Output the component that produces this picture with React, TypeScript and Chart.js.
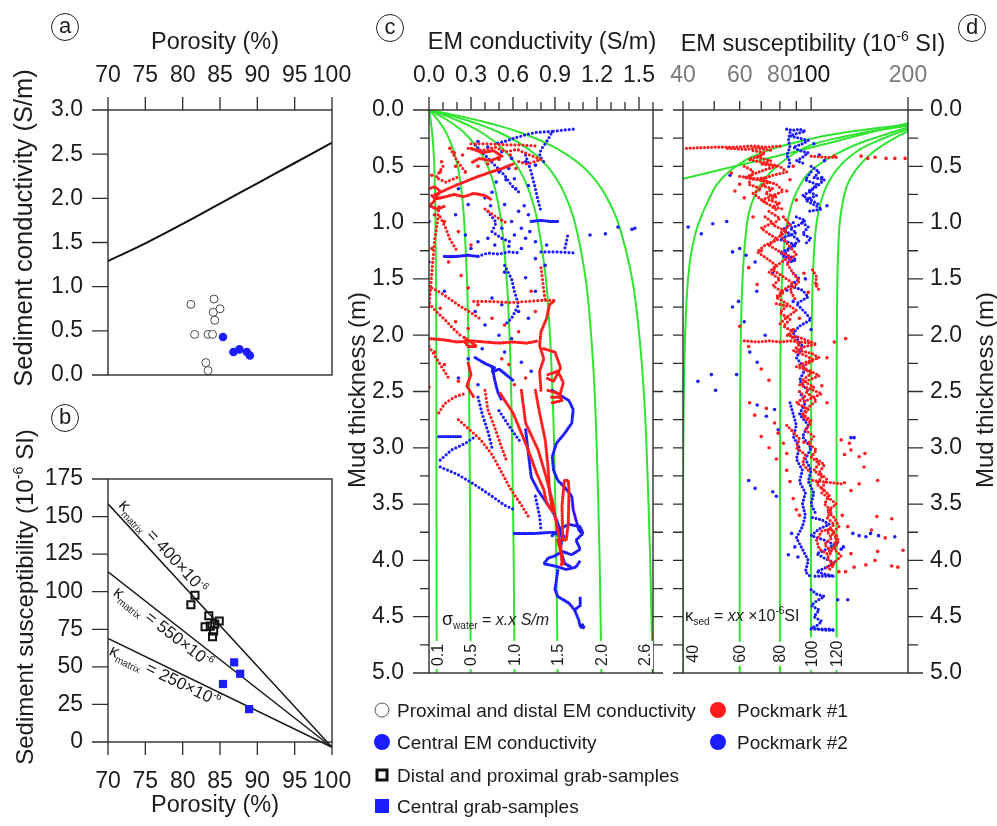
import React, { useEffect, useRef } from "react";
import { Chart, registerables } from "chart.js";

Chart.register(...registerables);

const FONT = "'Liberation Sans', Arial, Helvetica, sans-serif";
const INK = "#1c1c1c";
const AXIS = "#2e2e2e";
const RED = "#ff1c1c";
const BLUE = "#1c1cff";
const GREEN = "#30e430";
const GRAY_TICK = "#7a7a7a";
const TICK_FONT = 23;

// ---------------- (a) porosity vs sediment conductivity ----------------
const porosityTicks = [70, 75, 80, 85, 90, 95, 100];
const conductivityTicksA = [0, 0.5, 1, 1.5, 2, 2.5, 3];
const archiePorosity = [70, 75, 80, 85, 90, 95, 100];
const archieConductivity = [1.29, 1.49, 1.71, 1.94, 2.17, 2.4, 2.63];
const proxDistPorosity = [81.1, 84.2, 84.1, 85.0, 84.3, 81.6, 83.4, 84.0, 83.1, 83.4];
const proxDistConductivity = [0.8, 0.86, 0.71, 0.75, 0.62, 0.46, 0.46, 0.46, 0.14, 0.05];
const centralPorosity = [85.4, 86.8, 87.6, 88.6, 89.0];
const centralConductivity = [0.43, 0.26, 0.29, 0.26, 0.22];

// ---------------- (b) porosity vs sediment susceptibility ----------------
const susceptibilityTicksB = [0, 25, 50, 75, 100, 125, 150, 175];
const grabProxPorosity = [81.65, 81.1, 83.5, 83.0, 83.7, 84.3, 84.9, 84.15, 84.0];
const grabProxSusceptibility = [97.7, 91.3, 84.0, 76.7, 77.1, 78.5, 80.5, 73.8, 70.0];
const grabCentralPorosity = [86.9, 87.7, 85.4, 88.9];
const grabCentralSusceptibility = [53.0, 45.4, 38.6, 21.9];
const matrixValues = ["400", "550", "250"];
const matrixLinePorosity = [70, 100];
const matrixLineSusceptibility = [
  [158.5, -3.5],
  [113.2, -3.5],
  [68.9, -3.5],
];

// ---------------- (c) EM conductivity vs mud thickness ----------------
const condTicks = [0, 0.3, 0.6, 0.9, 1.2, 1.5];
const condMinorTicks = [0.1, 0.2, 0.4, 0.5, 0.7, 0.8, 1.0, 1.1, 1.3, 1.4, 1.6];
const depthTicks = [0, 0.5, 1, 1.5, 2, 2.5, 3, 3.5, 4, 4.5, 5];
const depthMinorTicks = [0.25, 0.75, 1.25, 1.75, 2.25, 2.75, 3.25, 3.75, 4.25, 4.75];
const sigmaWaterLabels = ["0.1", "0.5", "1.0", "1.5", "2.0", "2.6"];
const curveDepths = [0, 0.05, 0.1, 0.15, 0.2, 0.3, 0.4, 0.5, 0.6, 0.75, 1, 1.5, 2, 2.5, 3, 4, 5];
const sigmaCurveCond = [
  [0, 0.007, 0.013, 0.018, 0.022, 0.029, 0.034, 0.038, 0.04, 0.043, 0.046, 0.05, 0.052, 0.053, 0.053, 0.054, 0.055],
  [0, 0.038, 0.07, 0.098, 0.122, 0.158, 0.185, 0.205, 0.219, 0.235, 0.252, 0.271, 0.281, 0.286, 0.29, 0.295, 0.298],
  [0, 0.077, 0.144, 0.201, 0.25, 0.324, 0.379, 0.419, 0.449, 0.481, 0.517, 0.555, 0.575, 0.587, 0.594, 0.605, 0.611],
  [0, 0.117, 0.217, 0.303, 0.375, 0.488, 0.57, 0.63, 0.675, 0.724, 0.777, 0.835, 0.864, 0.882, 0.894, 0.909, 0.919],
  [0, 0.156, 0.291, 0.406, 0.503, 0.654, 0.764, 0.845, 0.905, 0.97, 1.042, 1.119, 1.158, 1.183, 1.198, 1.219, 1.231],
  [0, 0.203, 0.377, 0.526, 0.652, 0.848, 0.991, 1.096, 1.174, 1.258, 1.351, 1.451, 1.502, 1.534, 1.554, 1.58, 1.597],
];

const pm1CondLines = [
  [[0.6, 0.48], [0.52, 0.52], [0.42, 0.56], [0.33, 0.6], [0.25, 0.64], [0.17, 0.68], [0.1, 0.72], [0.03, 0.76]],
  [[0.02, 0.76], [0.05, 0.79], [0.12, 0.77], [0.18, 0.75], [0.25, 0.77], [0.32, 0.74], [0.4, 0.76], [0.45, 0.8]],
  [[0.0, 0.7], [0.04, 0.68], [0.08, 0.72], [0.03, 0.82], [0.0, 0.85], [0.06, 0.88], [0.12, 0.85]],
  [[0.3, 0.34], [0.38, 0.38], [0.46, 0.36], [0.52, 0.41], [0.44, 0.45], [0.36, 0.43], [0.3, 0.47]],
  [[0.0, 2.03], [0.1, 2.04], [0.2, 2.06], [0.3, 2.05], [0.4, 2.06], [0.5, 2.07], [0.6, 2.06], [0.7, 2.07], [0.78, 2.05]],
  [[0.25, 2.02], [0.3, 2.06], [0.34, 2.1], [0.28, 2.1], [0.25, 2.05]],
  [[0.89, 1.7], [0.86, 1.73], [0.84, 1.85], [0.8, 1.97], [0.79, 2.09], [0.82, 2.21], [0.79, 2.32], [0.8, 2.5]],
  [[0.82, 2.12], [0.9, 2.15], [0.94, 2.29], [0.89, 2.41], [0.84, 2.38]],
  [[0.85, 2.35], [0.92, 2.32], [0.96, 2.42], [0.93, 2.55], [0.86, 2.55]],
  [[0.66, 2.49], [0.69, 2.78], [0.78, 3.02], [0.83, 3.23], [0.88, 3.46], [0.91, 3.67], [0.94, 3.88], [0.95, 4.03]],
  [[0.76, 2.49], [0.79, 2.69], [0.83, 2.93], [0.85, 3.17], [0.86, 3.38], [0.88, 3.55]],
  [[0.51, 2.52], [0.6, 2.69], [0.7, 2.99], [0.77, 3.23], [0.82, 3.37], [0.84, 3.49], [0.89, 3.58]],
  [[0.85, 2.49], [0.93, 2.52], [0.95, 2.58], [0.88, 2.6]],
  [[0.97, 3.29], [0.995, 3.29], [1.0, 3.38], [0.995, 3.67], [0.98, 3.82], [0.955, 3.82], [0.95, 3.52], [0.966, 3.3]],
  [[0.92, 3.82], [0.95, 3.97], [0.96, 4.03], [0.94, 4.04]],
  [[0.28, 2.25], [0.3, 2.35], [0.27, 2.45], [0.32, 2.55]],
];
const pm1CondDots = [
  [[0.3, 0.3], [0.42, 0.3], [0.55, 0.31], [0.66, 0.31], [0.77, 0.32]],
  [[0.28, 0.34], [0.38, 0.36], [0.47, 0.33], [0.55, 0.37], [0.63, 0.35], [0.72, 0.4], [0.8, 0.44], [0.7, 0.48], [0.62, 0.45]],
  [[0.07, 0.86], [0.06, 1.0], [0.04, 1.15], [0.03, 1.3], [0.02, 1.45], [0.01, 1.6], [0.0, 1.75]],
  [[0.08, 0.95], [0.12, 1.05], [0.15, 1.15], [0.2, 1.25]],
  [[0.02, 1.58], [0.08, 1.62], [0.15, 1.68], [0.22, 1.74], [0.3, 1.8], [0.36, 1.85]],
  [[0.0, 1.72], [0.06, 1.8], [0.12, 1.87], [0.18, 1.95], [0.24, 2.02]],
  [[0.32, 1.7], [0.45, 1.7], [0.58, 1.71], [0.7, 1.7], [0.82, 1.69], [0.9, 1.69]],
  [[0.8, 1.4], [0.81, 1.5], [0.82, 1.6], [0.83, 1.7]],
  [[0.0, 2.1], [0.05, 2.2], [0.1, 2.3], [0.15, 2.4]],
  [[0.07, 2.69], [0.11, 2.61], [0.18, 2.55], [0.25, 2.52]],
  [[0.21, 2.75], [0.3, 2.85], [0.37, 2.93], [0.45, 3.06], [0.52, 3.22], [0.58, 3.36], [0.65, 3.49], [0.71, 3.61]],
  [[0.4, 2.49], [0.42, 2.66], [0.47, 2.82], [0.52, 3.0], [0.55, 3.1]],
  [[0.15, 0.34], [0.2, 0.45], [0.26, 0.55]],
  [[0.4, 0.88], [0.48, 0.95], [0.55, 1.0]],
  [[0.1, 0.5], [0.05, 0.6], [0.12, 0.64], [0.2, 0.6]],
];
const pm1CondPoints = [
  [0.15, 0.34], [0.09, 0.46], [0.19, 0.5], [0.26, 0.55], [0.04, 0.93], [0.11, 0.99], [0.21, 1.08], [0.3, 1.2],
  [0.02, 1.23], [0.14, 1.35], [0.23, 1.47], [0.28, 1.58], [0.35, 1.73], [0.45, 1.85], [0.54, 1.91], [0.64, 1.97],
  [0.08, 1.76], [0.19, 1.88], [0.28, 1.94], [0.04, 2.15], [0.11, 2.26], [0.21, 2.41], [0.57, 2.26], [0.69, 2.38],
  [0.61, 2.44], [0.52, 2.21], [0.73, 1.61], [0.76, 1.79], [0.02, 0.58], [0.08, 0.55], [0.0, 2.46],
  [0.35, 0.5], [0.42, 0.48], [0.5, 0.44], [0.58, 0.4], [0.24, 0.4], [0.18, 0.38], [0.62, 0.52],
];

const pm2CondLines = [
  [[0.73, 0.99], [0.8, 0.98], [0.87, 0.99], [0.93, 0.99]],
  [[0.11, 1.3], [0.2, 1.3], [0.28, 1.29], [0.35, 1.3]],
  [[0.33, 2.2], [0.4, 2.25], [0.47, 2.29], [0.45, 2.33], [0.5, 2.3], [0.55, 2.35], [0.6, 2.4]],
  [[0.45, 2.28], [0.47, 2.4], [0.49, 2.5], [0.52, 2.58]],
  [[0.07, 2.9], [0.14, 2.9], [0.23, 2.9]],
  [[0.88, 2.49], [1.0, 2.58], [1.03, 2.66], [1.02, 2.78], [0.97, 2.87], [0.91, 2.96], [0.88, 3.08], [0.89, 3.2], [0.92, 3.29], [0.97, 3.35], [1.02, 3.43], [1.03, 3.55], [1.05, 3.64], [1.07, 3.73], [1.09, 3.76]],
  [[0.69, 2.84], [0.71, 3.05], [0.73, 3.26], [0.78, 3.38], [0.83, 3.47], [0.89, 3.58], [0.92, 3.67], [0.95, 3.79], [0.94, 3.91], [0.97, 4.03], [1.02, 4.06]],
  [[0.61, 3.76], [0.76, 3.76], [0.88, 3.75], [0.97, 3.79]],
  [[0.88, 3.78], [0.93, 3.72], [1.0, 3.68], [1.08, 3.7], [1.1, 3.76], [1.05, 3.82], [1.08, 3.9], [1.02, 3.95], [0.95, 3.92], [0.9, 3.96], [0.85, 3.98], [0.82, 4.03], [0.9, 4.05], [0.98, 4.08], [1.05, 4.06], [1.08, 4.0]],
  [[0.92, 4.09], [0.9, 4.26], [0.92, 4.32], [1.0, 4.38], [1.04, 4.44], [1.07, 4.53], [1.08, 4.59], [1.11, 4.6], [1.09, 4.56]],
  [[1.04, 4.44], [1.08, 4.4], [1.08, 4.32]],
];
const pm2CondDots = [
  [[1.03, 0.17], [0.95, 0.18], [0.88, 0.19], [0.86, 0.24], [0.83, 0.3], [0.8, 0.35], [0.79, 0.41], [0.82, 0.46]],
  [[0.88, 0.19], [0.76, 0.2], [0.69, 0.22], [0.61, 0.25], [0.54, 0.28], [0.47, 0.3]],
  [[0.33, 0.31], [0.4, 0.4], [0.47, 0.49], [0.54, 0.58], [0.59, 0.67], [0.66, 0.75]],
  [[0.69, 0.4], [0.73, 0.55], [0.76, 0.7], [0.78, 0.81], [0.8, 0.9]],
  [[0.99, 1.12], [0.98, 1.18], [0.97, 1.23]],
  [[0.8, 1.26], [0.92, 1.26], [1.05, 1.27]],
  [[0.35, 1.3], [0.42, 1.27], [0.5, 1.28], [0.57, 1.26], [0.65, 1.27]],
  [[0.54, 1.38], [0.59, 1.5], [0.61, 1.61], [0.64, 1.73], [0.59, 1.85], [0.54, 1.91]],
  [[0.08, 3.17], [0.21, 3.24], [0.33, 3.33], [0.45, 3.43], [0.54, 3.51], [0.61, 3.55]],
  [[0.08, 3.11], [0.16, 3.02], [0.26, 2.96], [0.33, 2.9]],
  [[0.5, 2.67], [0.59, 2.84], [0.66, 2.96]],
  [[0.76, 3.43], [0.79, 3.61], [0.8, 3.73]],
  [[0.35, 2.55], [0.38, 2.7], [0.42, 2.85], [0.45, 3.0]],
  [[0.42, 0.9], [0.48, 1.0], [0.45, 1.08], [0.52, 1.14], [0.6, 1.18]],
];
const pm2CondPoints = [
  [0.35, 0.28], [0.42, 0.33], [0.52, 0.37], [0.59, 0.43], [0.69, 0.46], [0.76, 0.49], [0.5, 0.55], [0.57, 0.52],
  [0.61, 0.61], [0.71, 0.67], [0.45, 0.73], [0.4, 0.78], [0.54, 0.84], [0.64, 0.9], [0.71, 0.93], [0.59, 0.99],
  [0.52, 1.05], [0.61, 1.11], [0.69, 1.14], [0.76, 1.17], [0.42, 1.14], [0.47, 1.2], [0.57, 1.21], [0.66, 1.23],
  [0.35, 1.17], [0.3, 1.23], [0.26, 1.11], [0.76, 1.32], [0.83, 1.38], [0.54, 1.44], [0.69, 1.49], [0.76, 1.61],
  [0.45, 1.67], [0.52, 1.73], [0.64, 1.79], [0.71, 1.85], [0.33, 1.79], [0.4, 1.91], [0.5, 2.0], [0.59, 2.03],
  [0.38, 2.12], [0.54, 2.15], [0.66, 2.24], [0.73, 2.32], [0.28, 2.21], [0.21, 2.38], [0.35, 2.44], [0.0, 0.99],
  [0.0, 1.35], [0.11, 1.61], [0.19, 0.93], [0.28, 0.84], [0.21, 0.7],
  [1.15, 1.11], [1.26, 1.1], [1.35, 1.04], [1.45, 1.06], [1.47, 1.05],
  [0.55, 0.62], [0.62, 0.7], [0.68, 0.85], [0.48, 0.64], [0.44, 0.85], [0.66, 1.05], [0.72, 1.08], [0.84, 1.2],
];

// ---------------- (d) EM susceptibility vs mud thickness ----------------
const suscTicks = [40, 60, 80, 100, 200];
const suscMinorTicks = [40, 50, 60, 70, 80, 90];
const suscMajorTicks = [100, 200];
const kappaSedLabels = ["40", "60", "80", "100", "120"];
const kappaSedValues = [40, 60, 80, 100, 120];
const kappaCurves = [
  [[220, 0.105], [200, 0.118], [89, 0.37], [40, 0.61], [36, 0.64]],
  [[215, 0.125], [200, 0.13], [150, 0.17], [115, 0.22], [92, 0.28], [75, 0.35], [64, 0.43], [56, 0.54], [51, 0.66], [48, 0.8], [45.5, 0.95], [43.5, 1.12], [42, 1.35], [41, 1.7], [40.3, 2.4], [40, 3.5], [40, 5]],
  [[215, 0.13], [200, 0.14], [160, 0.18], [125, 0.24], [100, 0.31], [85, 0.42], [75, 0.55], [69, 0.68], [65, 0.85], [63, 1.04], [61.5, 1.4], [60.7, 1.8], [60.2, 2.5], [60, 3.5], [60, 5]],
  [[215, 0.14], [200, 0.155], [165, 0.23], [140, 0.3], [118, 0.4], [104, 0.5], [95, 0.61], [87, 0.84], [82.5, 1.2], [80.8, 1.7], [80.2, 2.5], [80, 3.5], [80, 5]],
  [[215, 0.15], [200, 0.17], [165, 0.26], [140, 0.36], [121, 0.52], [110, 0.72], [104, 1.0], [101.5, 1.4], [100.5, 1.9], [100, 2.5], [100, 5]],
  [[215, 0.17], [200, 0.19], [172, 0.29], [152, 0.4], [138, 0.53], [129, 0.68], [124, 0.9], [122, 1.1], [120.7, 1.5], [120.2, 2.0], [120, 2.8], [120, 5]],
];

const pm1SuscDots = [
  [[41, 0.34], [50, 0.33], [58, 0.33], [66, 0.32], [73, 0.33], [80, 0.32]],
  [[55, 0.34], [62, 0.35], [68, 0.34], [76, 0.36]],
  [[100, 0.41], [110, 0.42], [120, 0.42]],
  [[66, 0.36], [72, 0.38], [68, 0.42], [75, 0.45], [70, 0.48], [78, 0.5], [72, 0.53], [66, 0.57], [62, 0.6], [68, 0.62], [74, 0.64], [70, 0.67], [76, 0.7], [72, 0.74], [78, 0.77], [74, 0.8], [80, 0.83], [76, 0.86], [82, 0.88]],
  [[70, 0.4], [64, 0.44], [72, 0.47], [80, 0.5], [84, 0.55], [76, 0.58], [70, 0.62], [78, 0.66], [82, 0.72], [76, 0.76], [70, 0.8], [75, 0.85], [79, 0.9]],
  [[60, 0.59], [64, 0.6], [68, 0.61], [72, 0.6]],
  [[62, 0.5], [66, 0.54], [64, 0.66], [70, 0.7], [66, 0.74], [72, 0.82]],
  [[72, 0.95], [76, 1.0], [70, 1.05], [74, 1.1], [79, 1.15], [72, 1.2], [68, 1.26], [73, 1.32], [78, 1.38], [74, 1.44], [80, 1.5], [76, 1.56], [82, 1.62], [78, 1.68]],
  [[82, 0.95], [86, 1.02], [80, 1.1], [85, 1.2], [90, 1.28], [84, 1.36], [88, 1.45], [92, 1.52], [86, 1.6], [90, 1.7]],
  [[74, 0.9], [80, 0.96], [76, 1.02], [84, 1.08], [78, 1.14], [74, 1.2], [80, 1.26], [86, 1.3], [80, 1.36], [76, 1.42], [82, 1.48], [88, 1.54], [82, 1.6], [78, 1.66], [84, 1.72], [90, 1.78], [84, 1.84], [80, 1.9]],
  [[78, 1.72], [84, 1.74], [80, 1.8], [86, 1.86], [82, 1.92], [88, 1.97], [84, 2.0], [92, 2.02], [98, 2.05], [104, 2.08], [96, 2.1], [90, 2.13], [100, 2.16], [106, 2.2], [96, 2.24], [90, 2.28], [100, 2.32], [106, 2.36], [98, 2.4], [92, 2.44], [100, 2.48], [108, 2.52], [100, 2.56], [94, 2.6]],
  [[86, 2.0], [92, 2.08], [88, 2.14], [96, 2.18], [102, 2.22], [94, 2.28], [100, 2.34], [94, 2.4], [102, 2.46], [96, 2.5], [104, 2.58], [98, 2.64], [94, 2.7], [100, 2.76]],
  [[62, 2.05], [68, 2.06], [74, 2.05], [80, 2.06], [86, 2.05], [92, 2.06], [100, 2.07]],
  [[101, 1.42], [104, 1.48], [103, 1.55], [106, 1.6]],
  [[92, 2.5], [96, 2.55], [90, 2.6], [98, 2.66], [94, 2.72], [100, 2.78], [96, 2.84], [102, 2.9], [98, 2.96], [104, 3.02], [100, 3.08], [106, 3.14], [102, 3.2], [108, 3.26], [104, 3.32], [110, 3.38]],
  [[84, 2.8], [88, 2.86], [92, 2.92], [90, 3.0], [96, 3.06], [94, 3.14], [98, 3.2]],
  [[104, 3.1], [110, 3.15], [106, 3.22], [112, 3.28], [108, 3.36], [114, 3.42], [110, 3.5], [116, 3.56], [112, 3.62], [118, 3.68], [112, 3.74], [116, 3.8], [110, 3.86], [116, 3.92], [112, 3.98], [118, 4.04], [114, 4.08]],
  [[108, 3.4], [114, 3.45], [120, 3.5], [112, 3.56], [118, 3.62], [122, 3.7], [116, 3.76], [122, 3.82], [118, 3.9], [124, 3.96], [118, 4.02], [112, 4.06]],
  [[101, 3.29], [108, 3.3], [116, 3.31], [124, 3.32], [130, 3.3]],
  [[108, 3.74], [115, 3.72], [120, 3.78], [118, 3.88], [112, 3.94], [106, 3.9], [104, 3.82], [108, 3.74]],
];
const pm1SuscPoints = [
  [143, 0.41], [150, 0.43], [158, 0.42], [171, 0.43], [182, 0.43], [196, 0.43], [118, 0.41],
  [56.5, 0.56], [60, 0.66], [58, 0.72], [62, 0.78], [88, 0.5], [86, 0.62], [84, 0.72], [90, 0.8], [66, 0.95],
  [70, 1.25], [64, 1.4], [68, 1.55], [95, 1.45], [98, 1.62], [104, 1.55], [88, 1.95], [92, 1.85], [60, 1.92],
  [64, 2.1], [112, 2.2], [118, 2.06], [128, 2.03], [108, 2.45], [112, 2.6], [70, 2.3], [74, 2.4],
  [124, 2.93], [131.6, 2.96], [133, 3.02], [147, 3.05], [141, 3.08], [127, 3.06], [146, 3.17], [161, 3.29],
  [141, 3.32], [133, 3.38], [178, 3.63], [160, 3.61], [154, 3.73], [133, 3.94], [161, 3.92], [148, 4.04],
  [136, 4.06], [178, 4.05], [186, 4.06], [193, 3.91], [158, 4.0], [170, 3.8], [125, 3.6], [130, 3.7],
  [122, 4.1], [128, 4.1], [64.4, 2.6], [66.8, 2.71], [72.6, 2.65], [77, 2.78], [79, 2.87], [82, 2.96],
  [70, 2.9], [74, 3.0], [78, 3.1], [84, 3.2], [86, 3.3], [88, 3.45], [90, 3.55], [92, 3.6], [84, 3.05], [95, 2.95],
];

const pm2SuscDots = [
  [[84, 0.17], [88, 0.18], [92, 0.17], [96, 0.19], [90, 0.21], [86, 0.23], [92, 0.25], [98, 0.27], [94, 0.3], [88, 0.33], [92, 0.36], [98, 0.38], [94, 0.42], [90, 0.45], [96, 0.48]],
  [[86, 0.2], [85, 0.27], [86, 0.33], [84, 0.4], [86, 0.46], [85, 0.52]],
  [[100, 0.5], [106, 0.55], [102, 0.6], [110, 0.62], [104, 0.68], [98, 0.72], [104, 0.76], [96, 0.8], [102, 0.84], [108, 0.88], [98, 0.9]],
  [[100, 0.55], [96, 0.62], [104, 0.66], [100, 0.72], [94, 0.76], [100, 0.8], [106, 0.84]],
  [[90, 0.95], [96, 0.98], [92, 1.02], [86, 1.05], [90, 1.09], [84, 1.12], [80, 1.15], [86, 1.18], [90, 1.2], [84, 1.24], [80, 1.27], [86, 1.3], [90, 1.33], [84, 1.36]],
  [[88, 1.0], [82, 1.06], [88, 1.12], [92, 1.16], [86, 1.22], [82, 1.3], [88, 1.34]],
  [[94, 1.0], [98, 1.04], [94, 1.1], [100, 1.14], [95, 1.2]],
  [[88, 1.45], [92, 1.5], [86, 1.56], [94, 1.6], [98, 1.66], [90, 1.72], [96, 1.8], [100, 1.86], [92, 1.92], [88, 1.98], [94, 2.1], [90, 2.2], [96, 2.3], [92, 2.4], [98, 2.5]],
  [[86, 2.6], [88, 2.7], [90, 2.8], [88, 2.9], [92, 3.0], [90, 3.1], [94, 3.2], [92, 3.3], [96, 3.4], [94, 3.5], [96, 3.6], [94, 3.7], [90, 3.8], [94, 3.9], [98, 4.0], [96, 4.1], [100, 4.15]],
  [[92, 2.5], [96, 2.6], [92, 2.7], [98, 2.8], [94, 2.9], [100, 3.0], [96, 3.1], [100, 3.2], [98, 3.3], [102, 3.4], [100, 3.5], [104, 3.6]],
  [[101, 3.62], [108, 3.64], [114, 3.68], [106, 3.72], [100, 3.78], [110, 3.82], [118, 3.86], [112, 3.9], [104, 3.94], [110, 3.98], [118, 4.02], [112, 4.06], [104, 4.1], [110, 4.12], [118, 4.14], [102, 4.14]],
  [[100, 4.26], [104, 4.3], [110, 4.32], [104, 4.36], [100, 4.4], [106, 4.44], [102, 4.5], [108, 4.54], [104, 4.58], [100, 4.6], [110, 4.62], [118, 4.62]],
  [[100, 4.61], [105, 4.61], [110, 4.61], [115, 4.61], [118, 4.62]],
];
const pm2SuscPoints = [
  [41.5, 1.04], [45.6, 1.1], [49.5, 1.01], [54.7, 0.99], [56, 0.58], [60, 1.23], [57, 1.26], [62.8, 1.29],
  [67, 1.35], [67.8, 1.61], [59.5, 1.7], [57, 1.75], [62, 1.88], [64.5, 2.15], [68, 2.24], [49, 2.35],
  [44.5, 2.41], [50.5, 2.49], [58.7, 2.35], [106, 0.4], [110, 0.45], [112, 0.85], [108, 0.6], [102, 0.3],
  [96, 1.5], [88, 1.7], [100, 1.95], [72, 2.0], [76, 1.45], [84, 1.6],
  [64, 3.29], [67, 3.36], [76, 3.39], [78, 3.43], [68, 2.62], [72.6, 2.72], [77, 2.66], [79, 2.84],
  [134.8, 3.76], [141, 3.78], [148, 3.79], [153, 3.76], [162, 3.78], [182, 3.79], [126, 3.88], [130, 4.35],
  [121, 4.35], [133, 2.91], [136, 2.91], [124, 3.9], [120, 3.85], [87, 3.76], [89, 3.88], [91, 3.97], [85, 3.95],
];

// ---------------- legend ----------------
const legendLeftLabels = [
  "Proximal and distal EM conductivity",
  "Central EM conductivity",
  "Distal and proximal grab-samples",
  "Central grab-samples",
];
const legendRightLabels = ["Pockmark #1", "Pockmark #2"];

// ================= helpers =================
const xy = (p: number[][]) => p.map(([x, y]) => ({ x, y }));
const zipXY = (xs: number[], ys: number[]) => xs.map((x, i) => ({ x, y: ys[i] }));

const dottedTrack = (p: number[][], c: string, gap = 4.0) => ({
  data: xy(p), showLine: true, borderColor: c, borderWidth: 3.2, borderDash: [0, gap],
  borderCapStyle: "round", borderJoinStyle: "round", pointRadius: 0, tension: 0,
});
const beadedTrack = (p: number[][], c: string) => ({
  data: xy(p), showLine: true, borderColor: c, borderWidth: 3.3, borderDash: [0, 2.4],
  borderCapStyle: "round", borderJoinStyle: "round", pointRadius: 0, tension: 0,
});
const scatterDots = (p: number[][], c: string) => ({
  data: xy(p), showLine: false, pointRadius: 1.8, pointBackgroundColor: c, pointBorderWidth: 0, pointBorderColor: c,
});
const greenCurve = (p: number[][]) => ({
  data: xy(p), showLine: true, borderColor: GREEN, borderWidth: 2, pointRadius: 0, tension: 0.35,
});

function axis(o: any) {
  const horizontal = o.position === "top" || o.position === "bottom";
  return {
    type: o.type || "linear",
    position: o.position,
    min: o.min,
    max: o.max,
    reverse: !!o.reverse,
    bounds: "data",
    afterBuildTicks: (s: any) => {
      s.ticks = o.ticks.map((v: number) => ({ value: v }));
    },
    afterFit: (s: any) => {
      if (horizontal) s.height = o.size;
      else s.width = o.size;
      s.paddingLeft = 0;
      s.paddingRight = 0;
      s.paddingTop = 0;
      s.paddingBottom = 0;
    },
    ticks: {
      padding: o.padding,
      autoSkip: false,
      maxRotation: 0,
      minRotation: 0,
      font: { size: TICK_FONT, family: FONT },
      color: o.color || INK,
      callback: (v: any) => (o.fmt ? o.fmt(Number(v)) : String(v)),
    },
    grid: { display: false, drawTicks: false },
    border: { display: false },
  };
}

function baseOptions(padding: any, scales: any) {
  return {
    responsive: false,
    maintainAspectRatio: false,
    animation: false,
    events: [],
    layout: { padding },
    plugins: { legend: { display: false }, tooltip: { enabled: false } },
    scales,
  };
}

function framePlugin(marks: any[], extra?: (chart: any) => void) {
  return {
    id: "frameMarks",
    afterDatasetsDraw(chart: any) {
      const { ctx, chartArea: a } = chart;
      ctx.save();
      ctx.strokeStyle = AXIS;
      ctx.lineWidth = 1.4;
      ctx.strokeRect(a.left, a.top, a.right - a.left, a.bottom - a.top);
      ctx.lineWidth = 1.3;
      for (const m of marks) {
        const sc = chart.scales[m.scale];
        ctx.beginPath();
        for (const v of m.values) {
          const p = sc.getPixelForValue(v);
          if (m.side === "top") { ctx.moveTo(p, a.top); ctx.lineTo(p, a.top - m.len); }
          else if (m.side === "bottom") { ctx.moveTo(p, a.bottom); ctx.lineTo(p, a.bottom + m.len); }
          else if (m.side === "left") { ctx.moveTo(a.left, p); ctx.lineTo(a.left - m.len, p); }
          else { ctx.moveTo(a.right, p); ctx.lineTo(a.right + m.len, p); }
        }
        ctx.stroke();
      }
      ctx.restore();
      if (extra) {
        ctx.save();
        extra(chart);
        ctx.restore();
      }
    },
  };
}

function richText(ctx: any, x: number, y: number, segs: any[]) {
  let cx = x;
  for (const s of segs) {
    ctx.font = `${s.italic ? "italic " : ""}${s.size}px ${FONT}`;
    ctx.fillText(s.t, cx, y + (s.dy || 0));
    cx += ctx.measureText(s.t).width;
  }
}

function verticalLabel(ctx: any, text: string, x: number, y: number) {
  ctx.save();
  ctx.translate(x, y);
  ctx.rotate(-Math.PI / 2);
  ctx.font = `16px ${FONT}`;
  const w = ctx.measureText(text).width;
  ctx.fillStyle = "#fff";
  ctx.fillRect(-w / 2 - 3, -8, w + 6, 16);
  ctx.fillStyle = INK;
  ctx.textAlign = "center";
  ctx.textBaseline = "middle";
  ctx.fillText(text, 0, 1);
  ctx.restore();
}

// ================= chart configs =================
function configA(): any {
  return {
    type: "scatter",
    data: {
      datasets: [
        { data: zipXY(centralPorosity, centralConductivity), pointRadius: 4.3, pointBackgroundColor: BLUE, pointBorderColor: BLUE, pointBorderWidth: 0 },
        { data: zipXY(proxDistPorosity, proxDistConductivity), pointRadius: 4, pointBackgroundColor: "#fff", pointBorderColor: "#4a4a4a", pointBorderWidth: 1 },
        { data: zipXY(archiePorosity, archieConductivity), showLine: true, borderColor: "#111", borderWidth: 2, pointRadius: 0, tension: 0.4 },
      ],
    },
    options: baseOptions({ left: 0, top: 0, right: 997 - 332, bottom: 826 - 375 }, {
      x: axis({ position: "top", min: 70, max: 100, ticks: porosityTicks, size: 110, padding: 21 }),
      y: axis({ position: "left", min: 0, max: 3, ticks: conductivityTicksA, size: 108, padding: 25, fmt: (v: number) => v.toFixed(1) }),
    }),
    plugins: [
      framePlugin([
        { scale: "x", side: "top", values: porosityTicks, len: 13 },
        { scale: "y", side: "left", values: conductivityTicksA, len: 16 },
      ]),
    ],
  };
}

function configB(): any {
  const lineSets = matrixLineSusceptibility.map((ys) => ({
    data: zipXY(matrixLinePorosity, ys), showLine: true, borderColor: "#1a1a1a", borderWidth: 1.5, pointRadius: 0,
    clip: { left: 0, top: 0, right: 2, bottom: 8 },
  }));
  const anchors = [70.75, 71.8, 70.85];
  const offsets = [-6, 15, 14];
  return {
    type: "scatter",
    data: {
      datasets: [
        { data: zipXY(grabCentralPorosity, grabCentralSusceptibility), pointStyle: "rect", pointRadius: 5.8, pointBackgroundColor: BLUE, pointBorderColor: BLUE, pointBorderWidth: 0 },
        { data: zipXY(grabProxPorosity, grabProxSusceptibility), pointStyle: "rect", pointRadius: 5.0, pointBackgroundColor: "rgba(255,255,255,0)", pointBorderColor: "#111", pointBorderWidth: 2 },
        ...lineSets,
      ],
    },
    options: baseOptions({ left: 0, top: 479, right: 997 - 332, bottom: 826 - 742 - 60 }, {
      x: axis({ position: "bottom", min: 70, max: 100, ticks: porosityTicks, size: 60, padding: 26 }),
      y: axis({ position: "left", min: 0, max: 175, ticks: susceptibilityTicksB, size: 108, padding: 25 }),
    }),
    plugins: [
      framePlugin(
        [
          { scale: "x", side: "bottom", values: porosityTicks, len: 13 },
          { scale: "y", side: "left", values: susceptibilityTicksB, len: 16 },
        ],
        (chart: any) => {
          const { ctx } = chart;
          const xs = chart.scales.x;
          const ys = chart.scales.y;
          matrixValues.forEach((val, i) => {
            const x0 = xs.getPixelForValue(matrixLinePorosity[0]);
            const x1 = xs.getPixelForValue(matrixLinePorosity[1]);
            const y0 = ys.getPixelForValue(matrixLineSusceptibility[i][0]);
            const y1 = ys.getPixelForValue(matrixLineSusceptibility[i][1]);
            const ang = Math.atan2(y1 - y0, x1 - x0);
            const px = xs.getPixelForValue(anchors[i]);
            const py = y0 + ((px - x0) * (y1 - y0)) / (x1 - x0);
            ctx.save();
            ctx.translate(px, py);
            ctx.rotate(ang);
            ctx.fillStyle = INK;
            ctx.textAlign = "left";
            ctx.textBaseline = "alphabetic";
            richText(ctx, 0, offsets[i], [
              { t: "\u03BA", size: 17 },
              { t: "matrix", size: 10, dy: 4 },
              { t: ` = ${val}\u00D710`, size: 17 },
              { t: "-6", size: 10, dy: -7 },
            ]);
            ctx.restore();
          });
        }
      ),
    ],
  };
}

function configC(): any {
  const datasets: any[] = [
    ...pm1CondLines.map((t) => beadedTrack(t, RED)),
    ...pm1CondDots.map((t) => dottedTrack(t, RED)),
    scatterDots(pm1CondPoints, RED),
    ...pm2CondLines.map((t) => beadedTrack(t, BLUE)),
    ...pm2CondDots.map((t) => dottedTrack(t, BLUE)),
    scatterDots(pm2CondPoints, BLUE),
    ...sigmaCurveCond.map((cs) => greenCurve(cs.map((c, j) => [c, curveDepths[j]]))),
  ];
  return {
    type: "scatter",
    data: { datasets },
    options: baseOptions({ left: 429 - 60, top: 0, right: 997 - 653, bottom: 826 - 673 }, {
      x: axis({ position: "top", min: 0, max: 1.6, ticks: condTicks, size: 110, padding: 21, fmt: (v: number) => v.toFixed(1) }),
      y: axis({ position: "left", min: 0, max: 5, reverse: true, ticks: depthTicks, size: 60, padding: 25, fmt: (v: number) => v.toFixed(1) }),
    }),
    plugins: [
      framePlugin(
        [
          { scale: "x", side: "top", values: condTicks, len: 13 },
          { scale: "x", side: "top", values: condMinorTicks, len: 8 },
          { scale: "y", side: "left", values: depthTicks, len: 16 },
          { scale: "y", side: "left", values: depthMinorTicks, len: 9 },
          { scale: "y", side: "right", values: [...depthTicks, ...depthMinorTicks], len: 10 },
        ],
        (chart: any) => {
          const { ctx, chartArea: a } = chart;
          const xs = chart.scales.x;
          const yc = chart.scales.y.getPixelForValue(4.84);
          sigmaWaterLabels.forEach((lab, i) => {
            const cs = sigmaCurveCond[i];
            let x = xs.getPixelForValue(cs[cs.length - 1]);
            x = Math.min(Math.max(x, a.left + 9), a.right - 8);
            verticalLabel(ctx, lab, x, yc);
          });
          ctx.fillStyle = INK;
          ctx.textAlign = "left";
          ctx.textBaseline = "alphabetic";
          richText(ctx, a.left + 13, chart.scales.y.getPixelForValue(4.57), [
            { t: "\u03C3", size: 18 },
            { t: "water", size: 10, dy: 4 },
            { t: " = ", size: 16 },
            { t: "x.x S/m", size: 16, italic: true },
          ]);
        }
      ),
    ],
  };
}

function configD(): any {
  const datasets: any[] = [
    ...pm1SuscDots.map((t) => dottedTrack(t, RED, 3.6)),
    scatterDots(pm1SuscPoints, RED),
    ...pm2SuscDots.map((t) => dottedTrack(t, BLUE, 3.6)),
    scatterDots(pm2SuscPoints, BLUE),
    ...kappaCurves.map((c) => greenCurve(c)),
  ];
  const logAxis: any = axis({
    type: "logarithmic", position: "top", min: 40, max: 200, ticks: suscTicks, size: 110, padding: 21,
    fmt: (v: number) => String(Math.round(v)),
  });
  logAxis.ticks.color = (c: any) => (c.tick && c.tick.value === 100 ? "#111" : GRAY_TICK);
  return {
    type: "scatter",
    data: { datasets },
    options: baseOptions({ left: 683, top: 0, right: 997 - 908 - 60, bottom: 826 - 673 }, {
      x: logAxis,
      y: axis({ position: "right", min: 0, max: 5, reverse: true, ticks: depthTicks, size: 60, padding: 22, fmt: (v: number) => v.toFixed(1) }),
    }),
    plugins: [
      framePlugin(
        [
          { scale: "x", side: "top", values: suscMajorTicks, len: 13 },
          { scale: "x", side: "top", values: suscMinorTicks, len: 9 },
          { scale: "y", side: "left", values: [...depthTicks, ...depthMinorTicks], len: 10 },
          { scale: "y", side: "right", values: depthTicks, len: 15 },
          { scale: "y", side: "right", values: depthMinorTicks, len: 10 },
        ],
        (chart: any) => {
          const { ctx, chartArea: a } = chart;
          const xs = chart.scales.x;
          const yc = chart.scales.y.getPixelForValue(4.83);
          kappaSedLabels.forEach((lab, i) => {
            let x = xs.getPixelForValue(kappaSedValues[i]);
            x = Math.max(x, a.left + 10);
            verticalLabel(ctx, lab, x, yc);
          });
          ctx.fillStyle = INK;
          ctx.textAlign = "left";
          ctx.textBaseline = "alphabetic";
          richText(ctx, a.left + 2, chart.scales.y.getPixelForValue(4.54), [
            { t: "\u03BA", size: 17 },
            { t: "sed", size: 10, dy: 4 },
            { t: " = ", size: 16 },
            { t: "xx", size: 16, italic: true },
            { t: " \u00D710", size: 16 },
            { t: "-6", size: 10, dy: -7 },
            { t: "SI", size: 16 },
          ]);
        }
      ),
    ],
  };
}

// ================= component =================
const abs = (extra: any): any => ({ position: "absolute", whiteSpace: "nowrap", ...extra });

function Title({ x, y, size, rotate, children }: any) {
  return (
    <div
      style={abs({
        left: x,
        top: y,
        fontSize: size,
        lineHeight: 1,
        transform: `translate(-50%, -50%)${rotate ? " rotate(-90deg)" : ""}`,
      })}
    >
      {children}
    </div>
  );
}

function PanelLetter({ x, y, letter }: any) {
  return (
    <div
      style={abs({
        left: x - 14,
        top: y - 14,
        width: 28,
        height: 28,
        borderRadius: "50%",
        border: "1.4px solid #222",
        boxSizing: "border-box",
        display: "flex",
        alignItems: "center",
        justifyContent: "center",
        fontSize: 22,
        lineHeight: 1,
        paddingBottom: 3,
      })}
    >
      {letter}
    </div>
  );
}

function LegendMarker({ kind, x, y }: any) {
  const base = { left: x, top: y, transform: "translate(-50%, -50%)", boxSizing: "border-box" };
  if (kind === 0) return <div style={abs({ ...base, width: 15, height: 15, borderRadius: "50%", border: "1.3px solid #555", background: "#fff" })} />;
  if (kind === 1) return <div style={abs({ ...base, width: 16, height: 16, borderRadius: "50%", background: BLUE })} />;
  if (kind === 2) return <div style={abs({ ...base, width: 13, height: 13, border: "3px solid #111", background: "#fff" })} />;
  if (kind === 3) return <div style={abs({ ...base, width: 14, height: 14, background: BLUE })} />;
  if (kind === 4) return <div style={abs({ ...base, width: 16, height: 16, borderRadius: "50%", background: RED })} />;
  return <div style={abs({ ...base, width: 16, height: 16, borderRadius: "50%", background: BLUE })} />;
}

export default function App() {
  const refA = useRef<HTMLCanvasElement>(null);
  const refB = useRef<HTMLCanvasElement>(null);
  const refC = useRef<HTMLCanvasElement>(null);
  const refD = useRef<HTMLCanvasElement>(null);

  useEffect(() => {
    Chart.defaults.font.family = FONT;
    const charts: Chart[] = [];
    if (refA.current) charts.push(new Chart(refA.current, configA()));
    if (refB.current) charts.push(new Chart(refB.current, configB()));
    if (refC.current) charts.push(new Chart(refC.current, configC()));
    if (refD.current) charts.push(new Chart(refD.current, configD()));
    return () => charts.forEach((c) => c.destroy());
  }, []);

  const canvasStyle: any = { position: "absolute", left: 0, top: 0, width: 997, height: 826 };
  const rowsY = [710, 742, 775, 806];

  return (
    <div style={{ position: "fixed", left: 0, top: 0, width: 997, height: 826, background: "#fff", fontFamily: FONT, color: INK, overflow: "hidden" }}>
      <canvas ref={refA} width={997} height={826} style={canvasStyle} />
      <canvas ref={refB} width={997} height={826} style={canvasStyle} />
      <canvas ref={refC} width={997} height={826} style={canvasStyle} />
      <canvas ref={refD} width={997} height={826} style={canvasStyle} />

      <PanelLetter x={65} y={27} letter="a" />
      <PanelLetter x={65} y={418} letter="b" />
      <PanelLetter x={390} y={28} letter="c" />
      <PanelLetter x={972} y={28} letter="d" />

      <Title x={215} y={42} size={23.5}>Porosity (%)</Title>
      <Title x={24} y={228} size={25.5} rotate>Sediment conductivity (S/m)</Title>
      <Title x={24} y={597} size={24} rotate>
        Sediment susceptibility (10<sup style={{ fontSize: "0.6em", verticalAlign: "0.7em" }}>-6</sup> SI)
      </Title>
      <Title x={215} y={805} size={23.5}>Porosity (%)</Title>
      <Title x={542} y={42} size={23.5}>EM conductivity (S/m)</Title>
      <Title x={357} y={390} size={24} rotate>Mud thickness (m)</Title>
      <Title x={813} y={42} size={23.5}>
        EM susceptibility (10<sup style={{ fontSize: "0.6em", verticalAlign: "0.7em" }}>-6</sup> SI)
      </Title>
      <Title x={985} y={390} size={24} rotate>Mud thickness (m)</Title>

      {legendLeftLabels.map((lab, i) => (
        <React.Fragment key={lab}>
          <LegendMarker kind={i} x={382} y={rowsY[i]} />
          <div style={abs({ left: 397, top: rowsY[i], transform: "translateY(-50%)", fontSize: 19, lineHeight: 1 })}>{lab}</div>
        </React.Fragment>
      ))}
      {legendRightLabels.map((lab, i) => (
        <React.Fragment key={lab}>
          <LegendMarker kind={4 + i} x={718} y={rowsY[i]} />
          <div style={abs({ left: 737, top: rowsY[i], transform: "translateY(-50%)", fontSize: 19, lineHeight: 1 })}>{lab}</div>
        </React.Fragment>
      ))}
    </div>
  );
}
